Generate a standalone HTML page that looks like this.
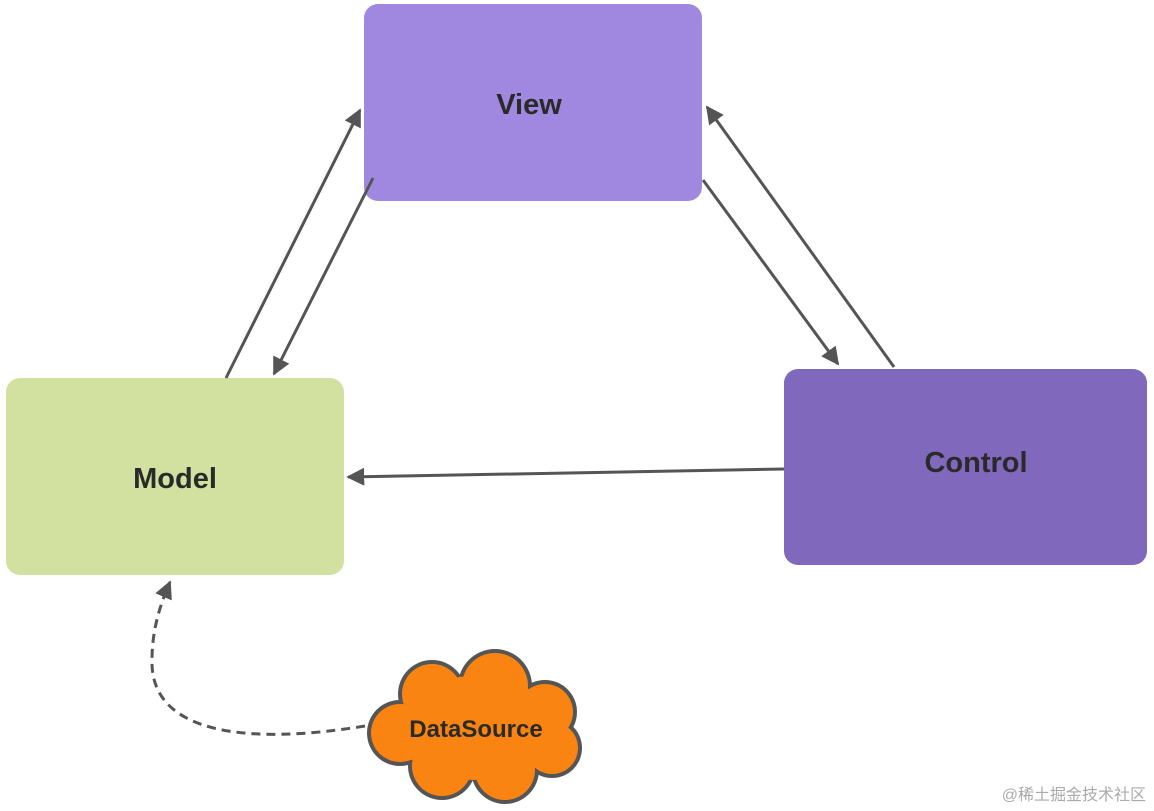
<!DOCTYPE html>
<html><head><style>body{margin:0;background:#fff}</style></head><body>
<svg width="1154" height="811" xmlns="http://www.w3.org/2000/svg" style="display:block">
<defs><marker id="a" viewBox="0 0 10 10" refX="9" refY="5" markerWidth="6" markerHeight="6" orient="auto"><path d="M0,0 L10,5 L0,10 z" fill="#555"/></marker></defs>
<rect x="364" y="4" width="338" height="197" rx="14" fill="#a088e0"/>
<rect x="6" y="378" width="338" height="197" rx="14" fill="#d2e19f"/>
<rect x="784" y="369" width="363" height="196" rx="14" fill="#8068bd"/>
<g font-family="Liberation Sans, sans-serif" font-weight="bold" font-size="29" fill="#2a2a2a" text-anchor="middle">
<text x="529" y="114">View</text>
<text x="175" y="488">Model</text>
<text x="976" y="472">Control</text>
</g>
<g stroke="#555" stroke-width="3" fill="none" marker-end="url(#a)">
<line x1="226" y1="378" x2="360" y2="110"/>
<line x1="373" y1="178" x2="274" y2="374"/>
<line x1="703" y1="180" x2="838" y2="364"/>
<line x1="894" y1="367" x2="707" y2="107"/>
<line x1="784" y1="469" x2="348" y2="477"/>
<path d="M365,726 C250,745 150,735 152,660 C152,630 160,605 170,582" stroke-dasharray="9,6"/>
</g>
<g fill="#555">
<circle cx="432" cy="694" r="34"/><circle cx="495" cy="686" r="37"/><circle cx="545" cy="712" r="32"/><circle cx="552" cy="748" r="30"/><circle cx="505" cy="770" r="34"/><circle cx="442" cy="766" r="34"/><circle cx="400" cy="733" r="33"/>
</g>
<g fill="#fa8412">
<circle cx="432" cy="694" r="30"/><circle cx="495" cy="686" r="33"/><circle cx="545" cy="712" r="28"/><circle cx="552" cy="748" r="26"/><circle cx="505" cy="770" r="30"/><circle cx="442" cy="766" r="30"/><circle cx="400" cy="733" r="29"/>
<ellipse cx="475" cy="728" rx="80" ry="52"/>
</g>
<text x="476" y="737" font-family="Liberation Sans, sans-serif" font-weight="bold" font-size="24" fill="#2a2a2a" text-anchor="middle">DataSource</text>
<text x="1146" y="800" font-family="Liberation Sans, 'Noto Sans CJK SC', sans-serif" font-size="16" fill="#aaa" text-anchor="end">@稀土掘金技术社区</text>
</svg>
</body></html>
